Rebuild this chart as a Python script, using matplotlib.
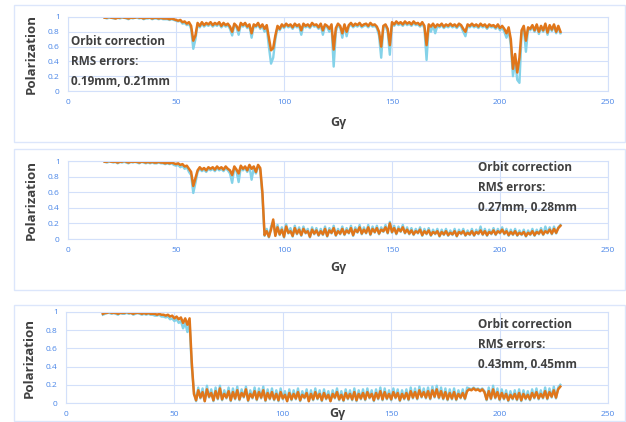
import numpy as np
import matplotlib
matplotlib.use("Agg")
import matplotlib.pyplot as plt
from matplotlib.patches import Rectangle

# Gγ sampling, one point per unit
GY = np.arange(17, 229)

# panel 1: orbit correction rms errors 0.19mm, 0.21mm
P1_ORANGE = [
    0.99, 0.99, 1.0, 0.99, 0.99, 0.98, 0.99, 0.99, 1.0, 0.99,
    0.99, 0.98, 0.99, 0.99, 0.99, 1.0, 0.99, 0.99, 0.98, 0.99,
    0.99, 0.99, 0.98, 0.99, 0.99, 0.98, 0.99, 0.98, 0.98, 0.98,
    0.97, 0.98, 0.97, 0.96, 0.95, 0.96, 0.93, 0.94, 0.91, 0.93,
    0.88, 0.68, 0.75, 0.92, 0.88, 0.93, 0.89, 0.92, 0.9, 0.93,
    0.89, 0.92, 0.9, 0.93, 0.88, 0.92, 0.89, 0.91, 0.87, 0.8,
    0.91, 0.88, 0.82, 0.92, 0.89, 0.92, 0.87, 0.9, 0.78, 0.9,
    0.88, 0.92, 0.86, 0.9, 0.84, 0.89, 0.72, 0.55, 0.58, 0.75,
    0.88, 0.84, 0.9, 0.87, 0.91, 0.88, 0.9, 0.86, 0.91, 0.88,
    0.9, 0.82, 0.91, 0.88, 0.9, 0.87, 0.92, 0.89, 0.9, 0.86,
    0.91, 0.82, 0.9, 0.88, 0.84, 0.9, 0.56, 0.85, 0.91, 0.88,
    0.78, 0.9, 0.8, 0.89, 0.92, 0.88, 0.91, 0.89, 0.92, 0.88,
    0.9, 0.91, 0.88, 0.92, 0.89, 0.9, 0.87, 0.8, 0.6, 0.88,
    0.9, 0.84, 0.62, 0.93, 0.9, 0.94, 0.91, 0.93, 0.9, 0.94,
    0.91, 0.93, 0.9, 0.94, 0.91, 0.92, 0.89, 0.93, 0.88, 0.62,
    0.9, 0.87, 0.91, 0.86, 0.9, 0.88, 0.91, 0.87, 0.9, 0.88,
    0.91, 0.88, 0.9, 0.87, 0.91, 0.89, 0.84, 0.8, 0.9, 0.88,
    0.91, 0.88, 0.9, 0.87, 0.91, 0.88, 0.9, 0.86, 0.9, 0.88,
    0.89, 0.86, 0.9, 0.85, 0.88, 0.84, 0.78, 0.86, 0.7, 0.3,
    0.5, 0.25, 0.45, 0.82, 0.88, 0.68, 0.86, 0.84, 0.89, 0.82,
    0.9, 0.8, 0.88, 0.82, 0.91, 0.79, 0.89, 0.83, 0.9, 0.8,
    0.88, 0.8,
]
P1_BLUE = [
    0.99, 0.98, 0.99, 0.99, 0.98, 0.98, 0.99, 0.98, 0.99, 0.99,
    0.98, 0.97, 0.99, 0.98, 0.99, 0.99, 0.98, 0.99, 0.97, 0.98,
    0.98, 0.99, 0.97, 0.98, 0.98, 0.97, 0.98, 0.97, 0.97, 0.97,
    0.96, 0.97, 0.96, 0.95, 0.94, 0.95, 0.91, 0.92, 0.89, 0.91,
    0.84, 0.57, 0.7, 0.9, 0.86, 0.91, 0.87, 0.9, 0.88, 0.91,
    0.87, 0.9, 0.88, 0.91, 0.86, 0.9, 0.87, 0.89, 0.84, 0.75,
    0.89, 0.86, 0.76, 0.9, 0.87, 0.9, 0.85, 0.88, 0.72, 0.88,
    0.86, 0.9, 0.84, 0.88, 0.8, 0.86, 0.6, 0.37, 0.45, 0.7,
    0.86, 0.82, 0.88, 0.85, 0.89, 0.86, 0.88, 0.84, 0.89, 0.86,
    0.88, 0.76, 0.89, 0.86, 0.88, 0.85, 0.9, 0.87, 0.88, 0.84,
    0.89, 0.76, 0.88, 0.86, 0.8, 0.88, 0.33, 0.8, 0.89, 0.86,
    0.72, 0.88, 0.74, 0.87, 0.9, 0.86, 0.89, 0.87, 0.9, 0.86,
    0.88, 0.89, 0.86, 0.9, 0.87, 0.88, 0.85, 0.75, 0.45, 0.86,
    0.88, 0.8, 0.49, 0.91, 0.88, 0.92, 0.89, 0.91, 0.88, 0.92,
    0.89, 0.91, 0.88, 0.92, 0.89, 0.9, 0.87, 0.91, 0.85, 0.42,
    0.88, 0.8, 0.89, 0.78, 0.88, 0.86, 0.89, 0.85, 0.88, 0.86,
    0.89, 0.86, 0.88, 0.85, 0.89, 0.87, 0.8, 0.74, 0.88, 0.86,
    0.89, 0.86, 0.88, 0.85, 0.89, 0.86, 0.88, 0.84, 0.88, 0.86,
    0.87, 0.84, 0.88, 0.82, 0.86, 0.8, 0.72, 0.82, 0.62, 0.2,
    0.4, 0.15, 0.11, 0.78, 0.86, 0.53, 0.84, 0.82, 0.87, 0.8,
    0.88, 0.77, 0.86, 0.8, 0.89, 0.76, 0.87, 0.81, 0.88, 0.78,
    0.86, 0.78,
]

# panel 2: rms errors 0.27mm, 0.28mm
P2_ORANGE = [
    0.99, 0.99, 1.0, 0.99, 0.99, 0.99, 0.98, 0.99, 0.99, 1.0,
    0.99, 0.98, 0.99, 0.99, 0.99, 0.99, 0.98, 0.99, 0.99, 0.98,
    0.99, 0.98, 0.99, 0.98, 0.98, 0.99, 0.98, 0.98, 0.97, 0.98,
    0.97, 0.98, 0.97, 0.96, 0.97, 0.95, 0.96, 0.93, 0.94, 0.9,
    0.86, 0.68, 0.78, 0.88, 0.92, 0.89, 0.91, 0.88, 0.92, 0.9,
    0.92, 0.89, 0.93, 0.9, 0.92, 0.89, 0.93, 0.9, 0.88, 0.82,
    0.93, 0.89, 0.84, 0.94, 0.9, 0.93, 0.88, 0.95, 0.9, 0.93,
    0.86, 0.95, 0.91, 0.6, 0.05, 0.1, 0.03, 0.12, 0.25, 0.04,
    0.15, 0.06, 0.12, 0.03, 0.16, 0.08, 0.1, 0.04, 0.14, 0.07,
    0.12, 0.05, 0.13, 0.08, 0.1, 0.03, 0.12, 0.07, 0.11, 0.05,
    0.1, 0.06, 0.13, 0.04, 0.11, 0.08, 0.14, 0.05, 0.1, 0.07,
    0.13, 0.06, 0.11, 0.08, 0.14, 0.05, 0.12, 0.09, 0.15, 0.07,
    0.12, 0.08, 0.15, 0.06, 0.13, 0.09, 0.14, 0.07, 0.12, 0.1,
    0.15, 0.08, 0.2, 0.09, 0.14, 0.07, 0.13, 0.1, 0.15, 0.08,
    0.12, 0.07, 0.11, 0.06, 0.1, 0.08, 0.12, 0.05, 0.1, 0.07,
    0.11, 0.05, 0.09, 0.07, 0.1, 0.04, 0.09, 0.06, 0.1, 0.05,
    0.08, 0.06, 0.1, 0.04, 0.09, 0.07, 0.1, 0.05, 0.08, 0.06,
    0.1, 0.05, 0.09, 0.07, 0.11, 0.06, 0.1, 0.05, 0.09, 0.07,
    0.11, 0.06, 0.1, 0.08, 0.12, 0.07, 0.1, 0.05, 0.09, 0.06,
    0.1, 0.05, 0.08, 0.06, 0.09, 0.04, 0.08, 0.06, 0.1, 0.05,
    0.09, 0.07, 0.11, 0.06, 0.1, 0.08, 0.12, 0.07, 0.13, 0.08,
    0.14, 0.17,
]
P2_BLUE = [
    0.99, 0.98, 0.99, 0.99, 0.98, 0.99, 0.97, 0.99, 0.98, 0.99,
    0.98, 0.97, 0.99, 0.98, 0.99, 0.98, 0.97, 0.99, 0.98, 0.97,
    0.98, 0.97, 0.98, 0.97, 0.97, 0.98, 0.97, 0.97, 0.96, 0.97,
    0.96, 0.97, 0.95, 0.94, 0.95, 0.92, 0.94, 0.9, 0.92, 0.86,
    0.82, 0.59, 0.72, 0.86, 0.9, 0.87, 0.89, 0.86, 0.9, 0.88,
    0.9, 0.87, 0.91, 0.88, 0.9, 0.87, 0.91, 0.88, 0.84, 0.72,
    0.91, 0.87, 0.73, 0.92, 0.88, 0.91, 0.86, 0.93, 0.76, 0.91,
    0.84, 0.93, 0.89, 0.55, 0.04, 0.13, 0.02, 0.16, 0.22, 0.05,
    0.18, 0.05, 0.15, 0.02, 0.19, 0.07, 0.14, 0.03, 0.17, 0.06,
    0.15, 0.04, 0.16, 0.07, 0.13, 0.02, 0.15, 0.06, 0.14, 0.04,
    0.13, 0.05, 0.16, 0.03, 0.14, 0.07, 0.17, 0.04, 0.13, 0.06,
    0.16, 0.05, 0.14, 0.07, 0.17, 0.04, 0.15, 0.08, 0.18, 0.06,
    0.15, 0.07, 0.18, 0.05, 0.16, 0.08, 0.17, 0.06, 0.15, 0.09,
    0.18, 0.07, 0.22, 0.08, 0.17, 0.06, 0.16, 0.09, 0.18, 0.07,
    0.15, 0.06, 0.14, 0.05, 0.13, 0.07, 0.15, 0.04, 0.13, 0.06,
    0.14, 0.04, 0.12, 0.06, 0.13, 0.03, 0.12, 0.05, 0.13, 0.04,
    0.11, 0.05, 0.13, 0.03, 0.12, 0.06, 0.13, 0.04, 0.11, 0.05,
    0.13, 0.04, 0.12, 0.06, 0.16, 0.05, 0.13, 0.04, 0.12, 0.06,
    0.14, 0.05, 0.13, 0.07, 0.15, 0.06, 0.13, 0.04, 0.12, 0.05,
    0.13, 0.04, 0.11, 0.05, 0.12, 0.03, 0.11, 0.05, 0.13, 0.04,
    0.12, 0.06, 0.14, 0.05, 0.16, 0.07, 0.15, 0.06, 0.16, 0.07,
    0.15, 0.18,
]

# panel 3: rms errors 0.43mm, 0.45mm
P3_ORANGE = [
    0.98, 0.99, 0.99, 1.0, 0.99, 0.99, 0.99, 0.98, 0.99, 0.99,
    0.99, 1.0, 0.99, 0.99, 0.98, 0.99, 0.99, 0.99, 0.98, 0.99,
    0.98, 0.99, 0.98, 0.98, 0.98, 0.97, 0.98, 0.97, 0.97, 0.96,
    0.97, 0.95, 0.96, 0.93, 0.95, 0.92, 0.94, 0.88, 0.93, 0.86,
    0.93, 0.45, 0.1, 0.03, 0.14, 0.06, 0.12, 0.02, 0.15, 0.07,
    0.11, 0.03, 0.13, 0.05, 0.16, 0.04, 0.1, 0.06, 0.13, 0.03,
    0.12, 0.05, 0.14, 0.04, 0.11, 0.07, 0.15, 0.03, 0.1, 0.06,
    0.13, 0.04, 0.12, 0.06, 0.14, 0.03, 0.11, 0.05, 0.12, 0.04,
    0.1, 0.03, 0.12, 0.05, 0.09, 0.02, 0.11, 0.04, 0.1, 0.05,
    0.12, 0.03, 0.09, 0.06, 0.11, 0.02, 0.1, 0.04, 0.12, 0.05,
    0.1, 0.03, 0.11, 0.05, 0.09, 0.02, 0.1, 0.06, 0.12, 0.04,
    0.09, 0.03, 0.11, 0.05, 0.1, 0.04, 0.12, 0.03, 0.1, 0.05,
    0.11, 0.04, 0.12, 0.06, 0.1, 0.03, 0.11, 0.05, 0.13, 0.04,
    0.12, 0.05, 0.1, 0.04, 0.12, 0.06, 0.11, 0.03, 0.1, 0.05,
    0.11, 0.04, 0.13, 0.06, 0.12, 0.05, 0.14, 0.07, 0.12, 0.06,
    0.13, 0.05, 0.14, 0.07, 0.15, 0.06, 0.13, 0.05, 0.12, 0.04,
    0.11, 0.05, 0.12, 0.04, 0.1, 0.06, 0.11, 0.05, 0.13, 0.15,
    0.14, 0.16, 0.14, 0.15, 0.13, 0.15, 0.12, 0.04, 0.13, 0.05,
    0.15, 0.06, 0.12, 0.04, 0.11, 0.05, 0.1, 0.03, 0.09, 0.05,
    0.1, 0.04, 0.11, 0.03, 0.1, 0.05, 0.09, 0.04, 0.11, 0.06,
    0.12, 0.05, 0.1, 0.06, 0.13, 0.05, 0.12, 0.07, 0.14, 0.06,
    0.15, 0.18,
]
P3_BLUE = [
    0.97, 0.98, 0.99, 0.99, 0.98, 0.99, 0.98, 0.97, 0.99, 0.98,
    0.98, 0.99, 0.98, 0.99, 0.97, 0.98, 0.99, 0.98, 0.97, 0.98,
    0.97, 0.98, 0.97, 0.97, 0.96, 0.96, 0.97, 0.95, 0.95, 0.94,
    0.95, 0.92, 0.93, 0.9, 0.92, 0.88, 0.9, 0.82, 0.88, 0.78,
    0.88, 0.4, 0.13, 0.02, 0.17, 0.05, 0.16, 0.02, 0.19, 0.06,
    0.15, 0.02, 0.17, 0.04, 0.19, 0.03, 0.14, 0.05, 0.17, 0.02,
    0.16, 0.04, 0.18, 0.03, 0.15, 0.06, 0.18, 0.02, 0.14, 0.05,
    0.17, 0.03, 0.16, 0.05, 0.18, 0.02, 0.15, 0.04, 0.16, 0.03,
    0.14, 0.02, 0.16, 0.04, 0.13, 0.02, 0.15, 0.03, 0.14, 0.04,
    0.16, 0.02, 0.13, 0.05, 0.15, 0.02, 0.14, 0.03, 0.16, 0.04,
    0.14, 0.02, 0.15, 0.04, 0.13, 0.02, 0.14, 0.05, 0.16, 0.03,
    0.13, 0.02, 0.15, 0.04, 0.14, 0.03, 0.16, 0.02, 0.14, 0.04,
    0.15, 0.03, 0.16, 0.05, 0.14, 0.02, 0.15, 0.04, 0.17, 0.03,
    0.16, 0.04, 0.14, 0.03, 0.16, 0.05, 0.15, 0.02, 0.14, 0.04,
    0.15, 0.03, 0.17, 0.05, 0.16, 0.04, 0.18, 0.06, 0.16, 0.05,
    0.17, 0.04, 0.18, 0.06, 0.19, 0.05, 0.17, 0.04, 0.16, 0.03,
    0.15, 0.04, 0.16, 0.03, 0.14, 0.05, 0.15, 0.04, 0.17, 0.16,
    0.15, 0.17, 0.15, 0.16, 0.14, 0.16, 0.13, 0.03, 0.17, 0.04,
    0.19, 0.05, 0.16, 0.03, 0.15, 0.04, 0.14, 0.02, 0.13, 0.04,
    0.14, 0.03, 0.15, 0.02, 0.14, 0.04, 0.13, 0.03, 0.15, 0.05,
    0.16, 0.04, 0.14, 0.05, 0.17, 0.04, 0.16, 0.06, 0.18, 0.05,
    0.17, 0.2,
]

NOTES = [
    "Orbit correction\nRMS errors:\n0.19mm, 0.21mm",
    "Orbit correction\nRMS errors:\n0.27mm, 0.28mm",
    "Orbit correction\nRMS errors:\n0.43mm, 0.45mm",
]
XTICKS = [0, 50, 100, 150, 200, 250]
YTICKS = [0, 0.2, 0.4, 0.6, 0.8, 1]
YTICK_LABELS = ["0", "0.2", "0.4", "0.6", "0.8", "1"]

ORANGE = "#E0761A"
BLUE = "#84D2E8"
GRID = "#D3E0FA"
TICKC = "#4A86E8"
TEXTC = "#404040"

plt.rcParams['font.family'] = ['Open Sans', 'DejaVu Sans']

W, H = 626, 422
fig = plt.figure(figsize=(W / 100, H / 100), dpi=100)

# panel frames (pixels: left, top, right, bottom)
frames = [(14, 5, 625, 142), (14, 149, 625, 290), (14, 305, 625, 421)]
for l, t, r, b in frames:
    fig.patches.append(Rectangle((l / W, 1 - b / H), (r - l) / W, (b - t) / H,
                                 transform=fig.transFigure, fill=False,
                                 edgecolor="#DCE6FB", linewidth=1.0))

# plot areas (pixels: left, top, right, bottom)
areas = [(68, 17, 608, 91), (68, 161, 608, 239), (66, 312, 608, 403)]
series = [(P1_BLUE, P1_ORANGE), (P2_BLUE, P2_ORANGE), (P3_BLUE, P3_ORANGE)]
# note position in axes fraction
note_pos = [(0.005, 0.75), (0.76, 1.0), (0.76, 0.93)]
# Gγ label offset (axes fraction)
glabel_pos = [(0.50, -0.42), (0.50, -0.37), (0.50, -0.12)]

for k, ((l, t, r, b), (blue, orange)) in enumerate(zip(areas, series)):
    ax = fig.add_axes([l / W, 1 - b / H, (r - l) / W, (b - t) / H])
    ax.plot(GY, blue, color=BLUE, lw=1.7)
    ax.plot(GY, orange, color=ORANGE, lw=1.8)
    ax.set_xlim(0, 250)
    ax.set_ylim(0, 1)
    ax.set_xticks(XTICKS)
    ax.set_yticks(YTICKS)
    ax.set_yticklabels(YTICK_LABELS)
    ax.grid(True, color=GRID, lw=0.8)
    ax.set_axisbelow(True)
    for s in ax.spines.values():
        s.set_color(GRID)
        s.set_linewidth(0.8)
    ax.tick_params(length=0, labelsize=6, labelcolor=TICKC, pad=6)
    ax.set_ylabel("Polarization", fontsize=9.5, fontweight="bold", color=TEXTC,
                  labelpad=7)
    ax.text(glabel_pos[k][0], glabel_pos[k][1], "Gγ", transform=ax.transAxes,
            ha="center", va="center", fontsize=9, fontweight="bold", color=TEXTC)
    ax.text(note_pos[k][0], note_pos[k][1], NOTES[k], transform=ax.transAxes,
            ha="left", va="top", fontsize=8.5, fontweight="bold",
            color=TEXTC, linespacing=1.7)

fig.savefig("out.png", dpi=100)
